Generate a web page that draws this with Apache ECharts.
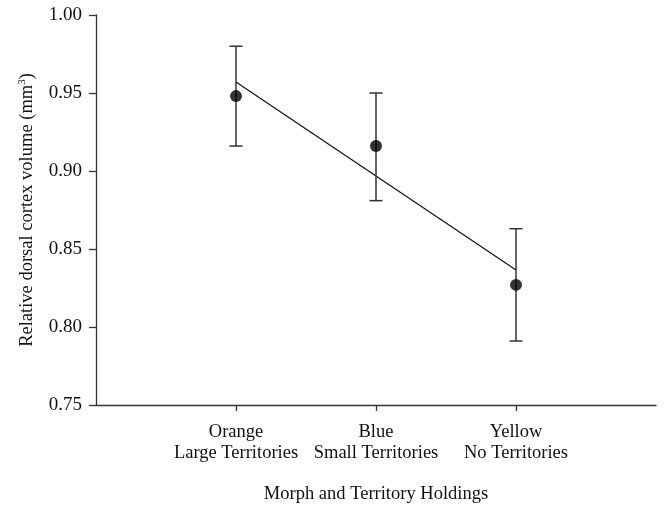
<!DOCTYPE html>
<html><head><meta charset="utf-8">
<script src="https://cdn.jsdelivr.net/npm/echarts@6/dist/echarts.min.js"></script>
<style>html,body{margin:0;padding:0;background:#fff}#c{width:664px;height:509px}</style>
</head><body><div id="c"></div>
<script>
var categories = ['Orange\nLarge Territories', 'Blue\nSmall Territories', 'Yellow\nNo Territories'];
var positions = [1, 2, 3];
var means = [0.948, 0.916, 0.827];
var upper = [0.980, 0.950, 0.863];
var lower = [0.916, 0.881, 0.791];
var fitX = [1, 3];
var fitY = [0.957, 0.8365];
var yTicks = [0.75, 0.80, 0.85, 0.90, 0.95, 1.00];

var font = 'Liberation Serif';
var chart = echarts.init(document.getElementById('c'), null, {renderer: 'canvas'});
var errData = positions.map(function (p, i) { return [p, lower[i], upper[i]]; });
var ptData = positions.map(function (p, i) { return [p, means[i]]; });
var fitData = fitX.map(function (x, i) { return [x, fitY[i]]; });

chart.setOption({
  animation: false,
  backgroundColor: '#fff',
  grid: {left: 96, right: 8, top: 15, bottom: 103, containLabel: false},
  xAxis: {
    type: 'value', min: 0, max: 4,
    name: 'Morph and Territory Holdings', nameLocation: 'middle', nameGap: 80,
    nameTextStyle: {fontFamily: font, fontSize: 18.5, color: '#111'},
    axisLine: {show: true, lineStyle: {color: '#333', width: 1.3}},
    axisTick: {show: true, length: 6, lineStyle: {color: '#333', width: 1.3}, customValues: positions},
    axisLabel: {
      customValues: positions, margin: 17, fontFamily: font, fontSize: 18.5, color: '#111', lineHeight: 21,
      formatter: function (v) { var i = positions.indexOf(v); return i >= 0 ? categories[i] : ''; }
    },
    splitLine: {show: false}
  },
  yAxis: {
    type: 'value', min: 0.75, max: 1.0, interval: 0.05,
    name: 'Relative dorsal cortex volume (mm{sup|3})', nameLocation: 'middle', nameGap: 59, nameRotate: 90,
    nameTextStyle: {fontFamily: font, fontSize: 18.5, color: '#111',
      rich: {sup: {fontFamily: font, fontSize: 11, verticalAlign: 'top', color: '#111', padding: [0, 0, 9, 0]}}},
    axisLine: {show: true, lineStyle: {color: '#333', width: 1.3}},
    axisTick: {show: true, inside: false, length: 7, lineStyle: {color: '#333', width: 1.3}},
    axisLabel: {fontFamily: font, fontSize: 19, color: '#111', margin: 14,
      formatter: function (v) { return v.toFixed(2); }},
    splitLine: {show: false}
  },
  series: [
    {
      type: 'line', data: fitData, symbol: 'none',
      lineStyle: {color: '#111', width: 1.2}, z: 2
    },
    {
      type: 'custom', data: errData, z: 3,
      renderItem: function (params, api) {
        var x = api.value(0);
        var lo = api.coord([x, api.value(1)]);
        var hi = api.coord([x, api.value(2)]);
        var hw = 6.5;
        var st = {stroke: '#333', lineWidth: 1.5, fill: null};
        return {type: 'group', children: [
          {type: 'line', shape: {x1: lo[0], y1: lo[1], x2: hi[0], y2: hi[1]}, style: st},
          {type: 'line', shape: {x1: lo[0] - hw, y1: lo[1], x2: lo[0] + hw, y2: lo[1]}, style: st},
          {type: 'line', shape: {x1: hi[0] - hw, y1: hi[1], x2: hi[0] + hw, y2: hi[1]}, style: st}
        ]};
      }
    },
    {
      type: 'scatter', data: ptData, symbol: 'circle', symbolSize: 12,
      itemStyle: {color: '#000'}, z: 4
    }
  ]
});
</script></body></html>
